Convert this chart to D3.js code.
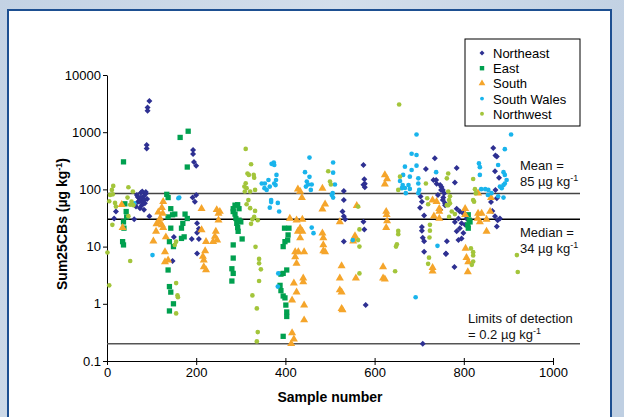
<!DOCTYPE html>
<html>
<head>
<meta charset="utf-8">
<script src="https://cdn.jsdelivr.net/npm/d3@7"></script>
<style>
  html, body { margin: 0; padding: 0; }
  body { width: 624px; height: 417px; overflow: hidden; font-family: "Liberation Sans", Arial, sans-serif; }
</style>
</head>
<body>
<div id="vis"></div>
<script>
const width = 624;
const height = 417;
const plot = { left: 107, right: 553, top: 75, bottom: 361 };
const font = "'Liberation Sans', Arial, sans-serif";

// [sample number, Sum25CBs in ug/kg]
const northeast = [
    [95, 3500], [91, 2700], [91, 2370], [89, 597], [89, 520],
    [67, 80], [72, 71], [76, 87], [81, 65], [83, 77], [87, 84], [69, 60], [78, 53], [85, 57], [90, 68],
    [74, 47], [83, 44], [65, 50], [87, 90], [69, 74], [79, 92], [73, 62], [80, 58], [76, 72], [84, 66],
    [20, 41], [16, 31], [61, 30], [95, 34],
    [193, 489], [193, 415], [195, 302], [200, 260], [192, 72], [197, 61], [200, 80],
    [202, 25.5], [206, 20.5], [202, 17.5], [190, 13.6], [206, 13.6], [202, 7.6], [150, 14.7], [147, 5.6],
    [531, 94], [531, 65], [528, 41], [531, 34], [534, 30], [531, 12.3],
    [575, 267], [577, 150], [578, 125], [575, 120], [578, 109], [575, 27.3], [577, 20], [580, 0.95],
    [715, 227], [735, 350], [738, 146], [732, 146], [739, 126],
    [703, 75], [706, 61], [702, 48], [711, 35], [706, 22], [706, 19], [708, 14.3], [711, 12.4], [711, 8.1],
    [750, 110], [753, 98], [756, 86], [754, 72], [758, 53], [762, 12.4], [760, 7.4], [708, 0.2],
    [747, 119], [749, 98], [742, 80], [753, 65], [758, 57], [747, 44],
    [784, 236], [780, 132], [866, 530], [871, 390], [874, 377], [870, 208], [879, 160], [871, 98],
    [784, 46], [791, 41], [799, 38], [788, 31], [780, 27], [795, 25.5], [803, 24], [791, 21], [784, 18.5],
    [799, 17.3], [795, 13.9], [788, 13], [806, 31], [803, 37],
    [874, 70], [861, 60], [864, 42], [870, 34], [876, 29], [881, 31], [874, 22.5], [760, 7.6], [779, 4.4]
];

const east = [
    [37, 303], [164, 810], [182, 1040], [180, 246],
    [40, 56], [43, 41], [44, 33], [37, 27], [38, 21], [35, 12.2], [37, 10.7],
    [134, 82], [137, 72], [143, 46], [137, 33], [147, 36], [152, 37], [143, 21], [140, 12.2], [149, 10],
    [137, 3.9], [140, 2.0], [143, 1.6], [149, 1.0], [140, 0.75],
    [175, 37], [180, 31], [170, 25.5], [167, 21], [167, 13.9], [173, 14.8],
    [287, 53], [293, 54], [283, 46], [296, 46], [283, 41], [287, 37], [289, 31], [296, 29], [291, 25.5],
    [300, 27], [293, 21.5], [294, 18.5], [303, 13.6], [283, 10.7], [283, 6.3], [280, 4.1], [283, 3.4], [280, 2.5],
    [398, 21], [408, 21], [406, 16], [399, 12.2], [395, 10], [405, 13],
    [403, 3.9], [395, 3.4], [390, 3.3], [388, 2.1], [390, 1.7], [395, 1.37], [399, 1.27], [401, 0.95],
    [403, 0.72], [403, 0.6], [395, 0.27],
    [810, 36], [812, 29], [809, 24], [814, 27], [810, 21]
];

const south = [
    [33, 54], [35, 21.5],
    [126, 61], [123, 48], [115, 40], [125, 38], [119, 31], [111, 25], [123, 24], [126, 21.5], [117, 27],
    [110, 18.5], [104, 12.4], [132, 14.7], [130, 8.1], [130, 5.4], [137, 5.8],
    [212, 46], [246, 44], [250, 38], [212, 19.5], [222, 12.2], [220, 8.4], [215, 6.7], [217, 5.8], [217, 4.4], [222, 3.9],
    [244, 18.5], [242, 15], [238, 12.2], [247, 13], [253, 41], [250, 29],
    [428, 101], [433, 92], [437, 72], [483, 104], [489, 55], [483, 45],
    [410, 31], [425, 29], [438, 30], [433, 21], [428, 18.5], [438, 18.5], [433, 14.2],
    [483, 17.2], [485, 14.2], [485, 10.7], [485, 8.4], [489, 8.1],
    [422, 8.1], [429, 8.1], [442, 8.1], [422, 6.6], [425, 5.1],
    [440, 2.8], [440, 2.4], [419, 2.3], [425, 1.6], [415, 1.16], [442, 0.95], [442, 0.52],
    [415, 0.31], [419, 0.24], [413, 0.2],
    [623, 179], [628, 152], [623, 123], [560, 52], [522, 27], [556, 15.4], [552, 12.4], [554, 13.7],
    [626, 41], [627, 36], [628, 28], [626, 21.5],
    [526, 4.6], [522, 2.8], [522, 1.74], [526, 1.6], [526, 0.82], [528, 0.78], [558, 2.8],
    [619, 4.4], [619, 2.8], [623, 2.7],
    [730, 65], [739, 61], [745, 46], [745, 41], [733, 34], [745, 31], [730, 4.3], [730, 3.7],
    [803, 46], [803, 36], [832, 86], [832, 38], [831, 31], [840, 38], [836, 27],
    [861, 72], [859, 41], [851, 30], [851, 18.5],
    [804, 9.3], [806, 6.4], [810, 5.4], [809, 3.6]
];

const southWales = [
    [162, 72], [160, 70], [102, 7.1], [61, 57],
    [369, 280], [374, 295], [375, 267], [380, 179], [379, 146], [375, 127], [362, 146], [354, 127],
    [347, 127], [353, 105], [365, 112], [378, 119], [358, 98],
    [368, 65], [368, 60], [365, 48], [383, 58], [386, 41],
    [454, 360], [444, 200], [454, 166], [448, 137], [451, 122], [459, 122], [446, 112], [457, 98],
    [459, 21.5], [463, 17.2], [384, 3.4], [383, 2.0],
    [507, 295], [507, 196], [504, 80], [507, 72], [511, 122], [506, 86],
    [694, 910], [683, 420], [694, 400], [668, 250], [683, 218], [694, 260],
    [664, 179], [679, 167], [698, 156], [657, 140], [663, 119], [668, 106], [676, 119], [679, 102],
    [661, 105], [670, 86], [698, 127], [700, 98], [698, 86],
    [738, 200], [741, 10.3], [692, 1.3], [551, 13],
    [906, 910], [892, 505], [834, 285], [836, 245], [836, 179], [839, 101], [848, 101], [855, 98],
    [862, 86], [854, 80], [877, 267], [889, 200], [892, 179], [896, 146], [892, 127], [889, 119],
    [881, 112], [885, 105], [877, 76], [889, 72]
];

const northwest = [
    [14, 115], [11, 98], [7, 80], [13, 82], [5, 62], [18, 58], [20, 50],
    [48, 109], [58, 92], [46, 72], [55, 61], [52, 54], [59, 53], [48, 34], [12, 24],
    [1, 7.9], [52, 5.6], [5, 2.1],
    [155, 12.2], [152, 10.7], [155, 2.3], [158, 1.4], [159, 1.3], [155, 0.68],
    [311, 510], [323, 275], [315, 190], [318, 179], [329, 179], [330, 160],
    [311, 128], [308, 112], [313, 105], [309, 92], [321, 92], [332, 98],
    [317, 65], [313, 55], [321, 47], [332, 42], [330, 33], [326, 30], [338, 29], [323, 25],
    [333, 9.9], [341, 6.1], [341, 5.1], [345, 4.0], [341, 2.5], [326, 1.4], [336, 0.83], [338, 0.32], [336, 0.22],
    [496, 208], [500, 137], [502, 122],
    [655, 3050], [563, 50], [566, 20], [563, 13], [566, 10], [566, 3.4],
    [653, 18.8], [653, 16.5], [650, 11], [648, 10], [646, 3.7], [657, 167], [653, 98],
    [715, 127], [718, 70], [720, 55], [724, 24], [724, 19], [723, 14.4], [722, 6.4], [720, 5.0],
    [762, 156], [765, 190], [765, 53], [767, 33], [765, 92], [769, 76], [767, 65], [769, 57], [762, 53],
    [821, 152], [825, 101], [827, 86], [821, 65], [823, 61],
    [816, 9.3], [821, 8.0], [821, 7.0], [821, 5.5], [818, 4.8],
    [919, 7.1], [921, 3.6], [773, 41], [780, 37]
];

const regions = ["Northeast", "East", "South", "South Wales", "Northwest"];
const regionData = [northeast, east, south, southWales, northwest];
const regionColors = ["#2e3092", "#00a04f", "#f5a52b", "#19b4ec", "#a3c53b"];
const regionShapes = [d3.symbolSquare, d3.symbolSquare, d3.symbolTriangle, d3.symbolCircle, d3.symbolCircle];
const regionRotate = [45, 0, 0, 0, 0];
const regionSizes = [18, 28, 28, 17, 17];

const xTicks = [0, 200, 400, 600, 800, 1000];
const yTicks = [0.1, 1, 10, 100, 1000, 10000];

const meanValue = 85;
const medianValue = 30;   // line position as drawn; label says 34
const lodValue = 0.2;

const svg = d3.select("#vis").append("svg")
    .attr("width", width)
    .attr("height", height)
    .style("font-family", font);

// background
const defs = svg.append("defs");
const grad = defs.append("linearGradient").attr("id", "bg").attr("x1", 0).attr("y1", 0).attr("x2", 1).attr("y2", 0.3);
grad.append("stop").attr("offset", "0%").attr("stop-color", "#c3d2e4");
grad.append("stop").attr("offset", "50%").attr("stop-color", "#d3deeb");
grad.append("stop").attr("offset", "100%").attr("stop-color", "#bfcfe2");
svg.append("rect").attr("width", width).attr("height", height).attr("fill", "url(#bg)");
svg.append("rect")
    .attr("x", 8).attr("y", 10).attr("width", 603).attr("height", 420)
    .attr("fill", "white")
    .attr("stroke", "#1d4f91")
    .attr("stroke-width", 2);

const x = d3.scaleLinear().domain([0, 1000]).range([plot.left, plot.right]);
const y = d3.scaleLog().domain([0.1, 10000]).range([plot.bottom, plot.top]);

// axes
const yAxis = svg.append("g")
    .attr("transform", `translate(${plot.left},0)`)
    .call(d3.axisLeft(y).tickValues(yTicks).tickSize(4).tickSizeOuter(0).tickFormat(d => String(d)))
    .attr("font-family", font);
yAxis.selectAll("text").style("font-size", "13px").attr("fill", "#000").attr("x", -6);

const xAxis = svg.append("g")
    .attr("transform", `translate(0,${plot.bottom})`)
    .call(d3.axisBottom(x).tickValues(xTicks).tickSize(4).tickSizeOuter(0).tickFormat(d => String(d)))
    .attr("font-family", font);
xAxis.selectAll(".tick line").attr("y1", -3).attr("y2", 4);
xAxis.selectAll("text").style("font-size", "13px").attr("fill", "#000").attr("y", 7);

svg.append("text")
    .attr("x", (plot.left + plot.right) / 2)
    .attr("y", 402)
    .attr("text-anchor", "middle")
    .style("font-size", "14px")
    .style("font-weight", "bold")
    .text("Sample number");

const yTitle = svg.append("text")
    .attr("transform", `translate(67,${(plot.top + plot.bottom) / 2 + 6}) rotate(-90)`)
    .attr("text-anchor", "middle")
    .style("font-size", "14px")
    .style("font-weight", "bold");
yTitle.append("tspan").text("Sum25CBs  (\u00b5g kg");
yTitle.append("tspan").attr("dy", -5).style("font-size", "9px").text("-1");
yTitle.append("tspan").attr("dy", 5).text(")");

// reference lines
const lineEnd = 580;
[[meanValue, "#444"], [medianValue, "#000"], [lodValue, "#555"]].forEach(([v, c]) => {
    svg.append("line")
        .attr("x1", plot.left).attr("x2", lineEnd)
        .attr("y1", y(v)).attr("y2", y(v))
        .attr("stroke", c).attr("stroke-width", 1.5);
});

// points
regionData.forEach((pts, i) => {
    svg.append("g").selectAll("path")
        .data(pts)
        .enter().append("path")
        .attr("transform", d => `translate(${x(d[0])},${y(d[1])}) rotate(${regionRotate[i]})`)
        .attr("d", d3.symbol().type(regionShapes[i]).size(regionSizes[i]))
        .attr("fill", regionColors[i]);
});

// annotations
function note(xp, yp, main, sup) {
    const t = svg.append("text").attr("x", xp).attr("y", yp).style("font-size", "13px").attr("fill", "#111");
    t.append("tspan").text(main);
    if (sup) t.append("tspan").attr("dy", -5).style("font-size", "9px").text(sup);
}
note(520, 170, "Mean =");
note(520, 186, "85 \u00b5g kg", "-1");
note(520, 237, "Median =");
note(520, 253, "34 \u00b5g kg", "-1");
note(468, 323, "Limits of detection");
note(468, 339, "= 0.2 \u00b5g kg", "-1");

// legend
const legend = svg.append("g");
legend.append("rect")
    .attr("x", 465).attr("y", 39).attr("width", 115).attr("height", 87)
    .attr("fill", "white").attr("stroke", "#000").attr("stroke-width", 1);
regions.forEach((name, i) => {
    const ly = 53 + i * 15.2;
    legend.append("path")
        .attr("transform", `translate(482,${ly}) rotate(${regionRotate[i]})`)
        .attr("d", d3.symbol().type(regionShapes[i]).size(regionSizes[i] * 0.7))
        .attr("fill", regionColors[i]);
    legend.append("text")
        .attr("x", 493).attr("y", ly + 5)
        .style("font-size", "13px")
        .text(name);
});
</script>
</body>
</html>
